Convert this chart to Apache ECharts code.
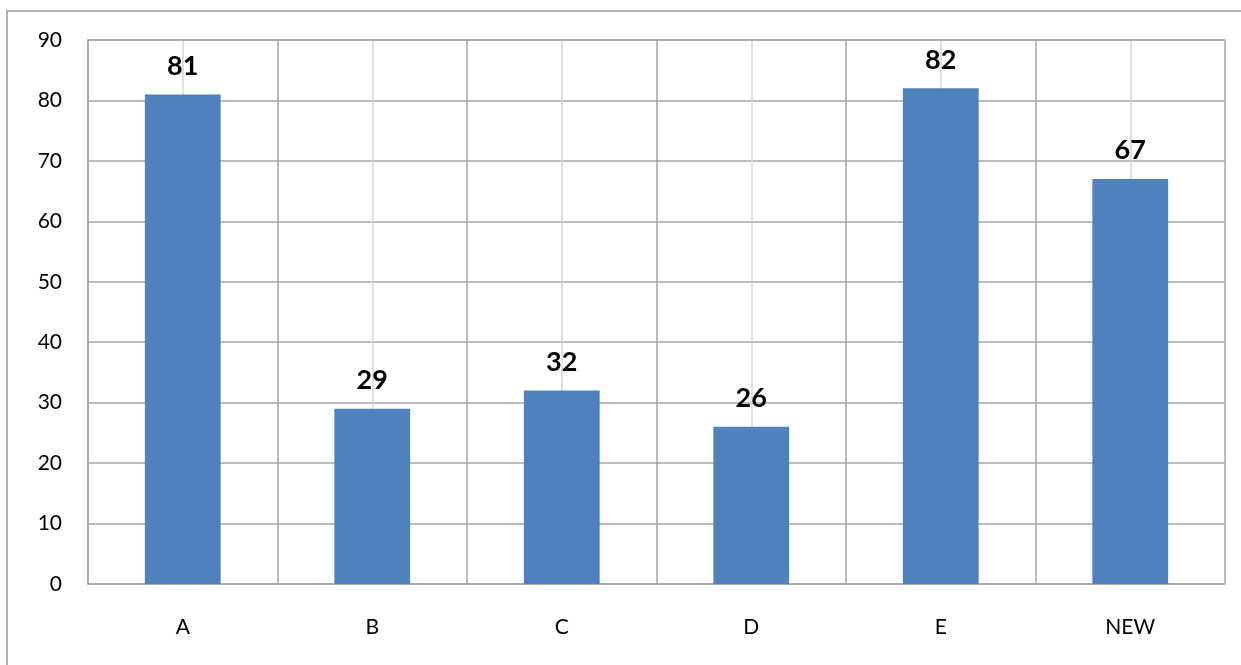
<!DOCTYPE html>
<html>
<head>
<meta charset="utf-8">
<script src="https://cdn.jsdelivr.net/npm/echarts@6/dist/echarts.min.js"></script>
<style>
  html, body { margin: 0; padding: 0; background: #fff; }
  #chart { width: 1241px; height: 665px; }
</style>
</head>
<body>
<div id="chart"></div>
<script>
var categories = ['A', 'B', 'C', 'D', 'E', 'NEW'];
var values = [81, 29, 32, 26, 82, 67];

var chart = echarts.init(document.getElementById('chart'));
var darkLine = '#a6a6a6', lightLine = '#d4d4d4';

chart.setOption({
    animation: false,
    textStyle: { fontFamily: 'Lato, "Noto Sans", sans-serif' },
    graphic: [{
        type: 'rect',
        shape: { x: 7, y: 11, width: 1400, height: 800 },
        style: { fill: 'none', stroke: '#b0b0b0', lineWidth: 2 }
    }],
    grid: { left: 88, right: 16, top: 40, bottom: 81 },
    xAxis: [{
        type: 'category',
        data: categories,
        axisLine: { show: true, lineStyle: { color: darkLine, width: 1.5 } },
        axisTick: { show: false },
        splitLine: { show: false },
        axisLabel: { color: '#000', fontSize: 21, margin: 33 }
    }, {
        // vertical grid: dark at category bounds, light at centres
        type: 'value',
        min: 0, max: 12, interval: 1,
        position: 'top',
        axisLine: { show: true, lineStyle: { color: darkLine, width: 1.5 } },
        axisTick: { show: false },
        axisLabel: { show: false },
        splitLine: { show: true, lineStyle: { color: [darkLine, lightLine], width: 1.5 } }
    }],
    yAxis: {
        type: 'value',
        min: 0, max: 90, interval: 10,
        axisLine: { show: true, lineStyle: { color: darkLine, width: 1.5 } },
        axisTick: { show: false },
        axisLabel: { color: '#000', fontSize: 21, margin: 26 },
        splitLine: { show: true, lineStyle: { color: darkLine, width: 1.5 } }
    },
    series: [{
        type: 'bar',
        xAxisIndex: 0,
        data: values,
        barWidth: '40%',
        itemStyle: { color: '#4f81bd' },
        label: {
            show: true,
            position: 'top',
            distance: 15,
            color: '#000',
            fontSize: 27,
            fontWeight: 'bold'
        }
    }]
});
</script>
</body>
</html>
